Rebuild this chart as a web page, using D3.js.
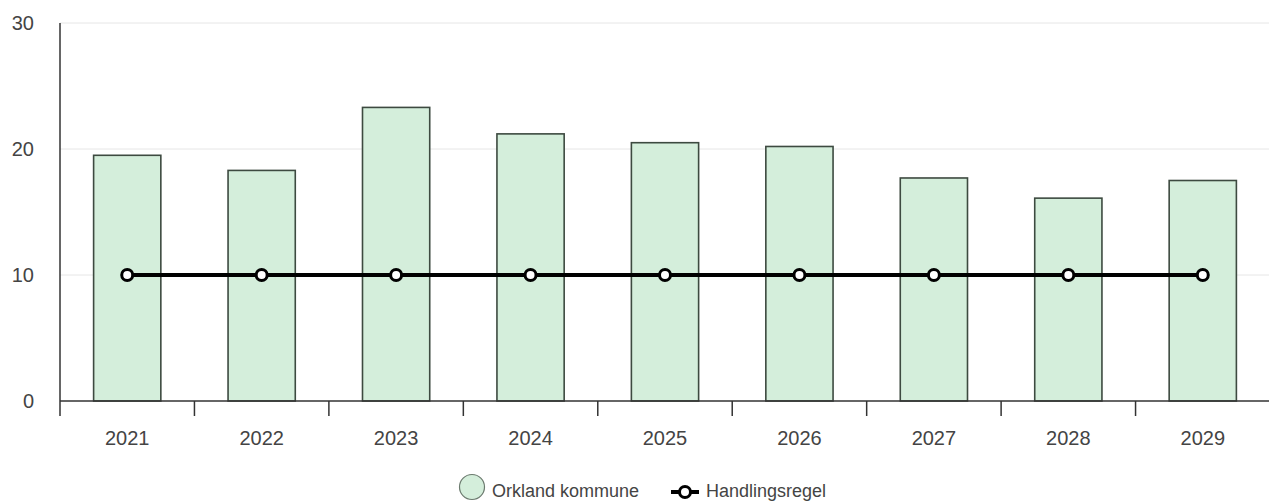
<!DOCTYPE html>
<html><head><meta charset="utf-8">
<script src="https://cdn.jsdelivr.net/npm/d3@7"></script>
<style>
html,body{margin:0;padding:0;background:#fff;}
svg{display:block;font-family:"Liberation Sans",Arial,sans-serif;}
</style></head>
<body><svg id="c" width="1269" height="501"></svg>
<script>
const years = ["2021","2022","2023","2024","2025","2026","2027","2028","2029"];
const orkland = [19.5, 18.3, 23.3, 21.2, 20.5, 20.2, 17.7, 16.1, 17.5];
const handlingsregel = [10, 10, 10, 10, 10, 10, 10, 10, 10];
const yTicks = [0, 10, 20, 30];
const seriesNames = ["Orkland kommune", "Handlingsregel"];

const svg = d3.select("#c");
const pLeft = 60, pRight = 1270, pTop = 23, pBottom = 401;
const x = d3.scaleBand().domain(years).range([pLeft, pRight]).paddingInner(0.5).paddingOuter(0.25);
const xb = d3.scaleBand().domain(years).range([pLeft, pRight]);
const y = d3.scaleLinear().domain([0, 30]).range([pBottom, pTop]);
const textColor = "#444";

// grid
svg.append("g").selectAll("line").data(yTicks.filter(d => d > 0)).join("line")
  .attr("x1", pLeft).attr("x2", 1269)
  .attr("y1", d => y(d)).attr("y2", d => y(d))
  .attr("stroke", "#e6e6e6").attr("stroke-width", 1);

// y labels
svg.append("g").selectAll("text").data(yTicks).join("text")
  .attr("x", 34).attr("y", d => y(d)).attr("dy", "0.35em")
  .attr("text-anchor", "end").attr("font-size", 20).attr("fill", textColor)
  .text(d => d);

// bars
svg.append("g").selectAll("rect").data(years).join("rect")
  .attr("x", d => x(d)).attr("width", x.bandwidth())
  .attr("y", (d, i) => y(orkland[i])).attr("height", (d, i) => y(0) - y(orkland[i]))
  .attr("fill", "#d4eedb").attr("stroke", "#3d4a40").attr("stroke-width", 1.6);

// axes lines
svg.append("line").attr("x1", pLeft).attr("x2", pLeft).attr("y1", pTop).attr("y2", 416)
  .attr("stroke", "#333").attr("stroke-width", 1.5);
svg.append("line").attr("x1", pLeft).attr("x2", 1269).attr("y1", pBottom).attr("y2", pBottom)
  .attr("stroke", "#333").attr("stroke-width", 1.5);
svg.append("g").selectAll("line").data(years.slice(1)).join("line")
  .attr("x1", d => xb(d)).attr("x2", d => xb(d)).attr("y1", pBottom).attr("y2", 416)
  .attr("stroke", "#333").attr("stroke-width", 1.5);

// x labels
svg.append("g").selectAll("text").data(years).join("text")
  .attr("x", d => x(d) + x.bandwidth() / 2).attr("y", 445)
  .attr("text-anchor", "middle").attr("font-size", 20).attr("fill", textColor)
  .text(d => d);

// line
const cx = d => x(d) + x.bandwidth() / 2;
svg.append("path").datum(years)
  .attr("d", d3.line().x(d => cx(d)).y((d, i) => y(handlingsregel[i])))
  .attr("fill", "none").attr("stroke", "#000").attr("stroke-width", 4);
svg.append("g").selectAll("circle").data(years).join("circle")
  .attr("cx", d => cx(d)).attr("cy", (d, i) => y(handlingsregel[i])).attr("r", 5.5)
  .attr("fill", "#fff").attr("stroke", "#000").attr("stroke-width", 3);

// legend
const lg = svg.append("g");
lg.append("circle").attr("cx", 472).attr("cy", 487).attr("r", 12.5)
  .attr("fill", "#d4eedb").attr("stroke", "#6b7a6e").attr("stroke-width", 1.2);
lg.append("text").attr("x", 492).attr("y", 497).attr("font-size", 18).attr("fill", textColor)
  .text(seriesNames[0]);
lg.append("line").attr("x1", 671).attr("x2", 699).attr("y1", 492).attr("y2", 492)
  .attr("stroke", "#000").attr("stroke-width", 4);
lg.append("circle").attr("cx", 685).attr("cy", 492).attr("r", 5.5)
  .attr("fill", "#fff").attr("stroke", "#000").attr("stroke-width", 3);
lg.append("text").attr("x", 706).attr("y", 497).attr("font-size", 18).attr("fill", textColor)
  .text(seriesNames[1]);
</script></body></html>
